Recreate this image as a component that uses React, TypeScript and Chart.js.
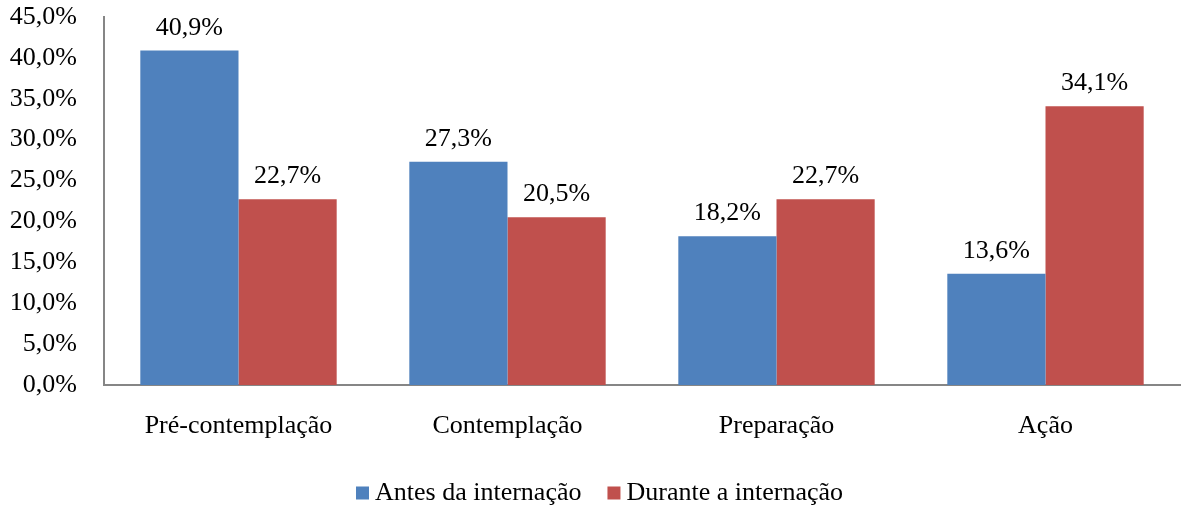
import React, { useEffect, useRef } from "react";
import Chart from "chart.js/auto";

const categories = ["Pré-contemplação", "Contemplação", "Preparação", "Ação"];
const antesValues = [40.9, 27.3, 18.2, 13.6];
const duranteValues = [22.7, 20.5, 22.7, 34.1];
const seriesLabels = ["Antes da internação", "Durante a internação"];
const seriesColors = ["#4F81BD", "#C0504D"];

const FONT = '"Liberation Serif", "Times New Roman", serif';
const fmt = (v: number) => v.toFixed(1).replace(".", ",") + "%";

export default function App() {
  const ref = useRef<HTMLCanvasElement | null>(null);
  useEffect(() => {
    document.body.style.margin = "0";
    const canvas = ref.current!;
    const labelPlugin = {
      id: "valueLabels",
      afterDatasetsDraw(chart: any) {
        const ctx = chart.ctx;
        ctx.save();
        ctx.font = `26px ${FONT}`;
        ctx.fillStyle = "#000";
        ctx.textAlign = "center";
        ctx.textBaseline = "alphabetic";
        chart.data.datasets.forEach((ds: any, di: number) => {
          const meta = chart.getDatasetMeta(di);
          meta.data.forEach((bar: any, i: number) => {
            ctx.fillText(fmt(ds.data[i]), bar.x, bar.y - 16);
          });
        });
        ctx.restore();
      },
    };
    const legendPlugin = {
      id: "customLegend",
      afterDraw(chart: any) {
        const ctx = chart.ctx;
        ctx.save();
        ctx.font = `26px ${FONT}`;
        ctx.textBaseline = "middle";
        ctx.textAlign = "left";
        const box = 13;
        const gapBoxText = 6;
        const gapItems = 26;
        const widths = chart.data.datasets.map((d: any) => ctx.measureText(d.label).width);
        const total =
          widths.reduce((a: number, w: number) => a + box + gapBoxText + w, 0) +
          gapItems * (widths.length - 1);
        let x = chart.width / 2 + 9 - total / 2;
        const y = 493;
        chart.data.datasets.forEach((d: any, i: number) => {
          ctx.fillStyle = d.backgroundColor;
          ctx.fillRect(x, y - box / 2, box, box);
          x += box + gapBoxText;
          ctx.fillStyle = "#000";
          ctx.fillText(d.label, x, y);
          x += widths[i] + gapItems;
        });
        ctx.restore();
      },
    };
    const chart = new Chart(canvas, {
      type: "bar",
      data: {
        labels: categories,
        datasets: [
          { label: seriesLabels[0], data: antesValues, backgroundColor: seriesColors[0] },
          { label: seriesLabels[1], data: duranteValues, backgroundColor: seriesColors[1] },
        ],
      },
      options: {
        responsive: false,
        animation: false,
        layout: { padding: { top: 17, right: 1, left: 0, bottom: 0 } },
        datasets: { bar: { categoryPercentage: 0.73, barPercentage: 1 } },
        plugins: { legend: { display: false }, tooltip: { enabled: false } },
        scales: {
          x: {
            grid: { display: false },
            border: { color: "#868686", width: 2 },
            ticks: { color: "#000", font: { family: FONT, size: 26 }, padding: 18 },
            afterFit: (s: any) => {
              s.height = 125;
            },
          },
          y: {
            min: 0,
            max: 45,
            grid: { display: false },
            border: { color: "#868686", width: 2 },
            ticks: {
              stepSize: 5,
              color: "#000",
              font: { family: FONT, size: 26 },
              padding: 19,
              callback: (v: any) => fmt(Number(v)),
            },
            afterFit: (s: any) => {
              s.width = 104;
              s.paddingTop = 0;
              s.paddingBottom = 0;
            },
          },
        },
      },
      plugins: [labelPlugin, legendPlugin],
    });
    return () => chart.destroy();
  }, []);
  return (
    <div style={{ position: "absolute", left: 0, top: 0, width: 1181, height: 510, background: "#fff" }}>
      <canvas ref={ref} width={1181} height={510} />
    </div>
  );
}
